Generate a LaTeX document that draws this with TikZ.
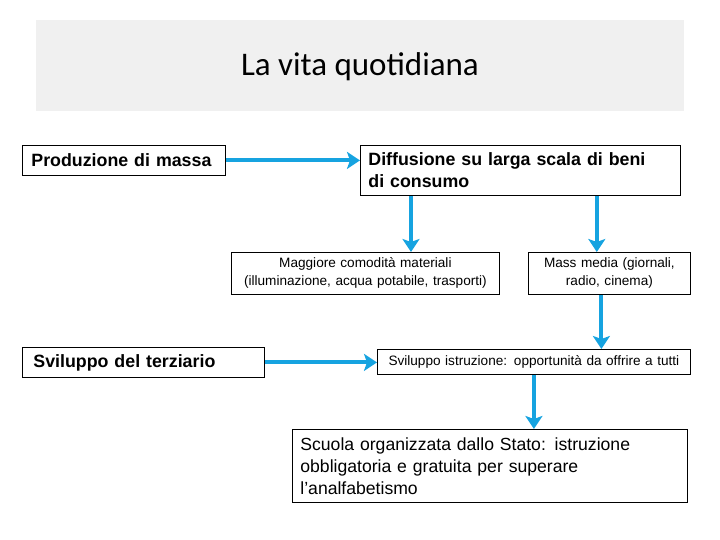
\documentclass[tikz,border=0pt]{standalone}
\usepackage{fontspec}
\setmainfont{Liberation Sans}
\newfontfamily\titlefont{Carlito}
\usepackage{tikz}
\usetikzlibrary{arrows.meta, positioning, calc}
\definecolor{FlowBlue}{RGB}{22,163,224}
\definecolor{BandGray}{RGB}{240,240,240}

\tikzset{
    box/.style={draw, line width=0.8pt, anchor=north west, inner ysep=0pt},
    bigbold/.style={font=\fontsize{17.8}{22}\selectfont\bfseries},
    small/.style={font=\fontsize{13.6}{18}\selectfont},
    flow/.style={-{Stealth[width=17pt,length=13pt,inset=3pt]}, line width=4pt, FlowBlue}
}

\begin{document}
\begin{tikzpicture}[x=1pt, y=-1pt]
        \useasboundingbox (0,0) rectangle (720,540);

        % Title band
        \fill [BandGray] (36,20) rectangle (684,111);
        \node [font=\titlefont\fontsize{33}{38}\selectfont] (title) at (360,67) {La vita quotidiana};

        % Boxes, left column
        \node [box, bigbold, inner xsep=9pt, minimum height=30pt, text width=185pt, align=left] (prod) at (22,145)
            {Produzione di massa};
        \node [box, bigbold, inner xsep=11pt, minimum height=30pt, text width=220pt, align=left] (terz) at (22,347)
            {Sviluppo del terziario};

        % Boxes, right side
        \node [box, bigbold, inner xsep=8pt, minimum height=50pt, text width=304pt, align=left] (diff) at (360,145)
            {Diffusione su larga scala di beni\\di consumo};
        \node [box, small, inner xsep=2pt, minimum height=42pt, text width=264pt, align=center] (magg) at (231,252)
            {Maggiore comodità materiali\\(illuminazione, acqua potabile, trasporti)};
        \node [box, small, inner xsep=2pt, minimum height=42pt, text width=158pt, align=center] (media) at (528,252)
            {Mass media (giornali,\\radio, cinema)};
        \node [box, small, inner xsep=2pt, minimum height=25pt, text width=309pt, align=center] (istr) at (377,349)
            {Sviluppo istruzione: opportunità da offrire a tutti};
        \node [box, font=\fontsize{17.6}{22}\selectfont, inner xsep=8pt, minimum height=73pt, text width=379pt, align=left] (scuola) at (292,429)
            {Scuola organizzata dallo Stato: istruzione\\obbligatoria e gratuita per superare\\l’analfabetismo};

        % Arrows
        \draw [flow] (prod.east) -- (prod.east -| diff.west);
        \draw [flow] ([xshift=51pt]diff.south west) -- ([xshift=51pt]diff.south west |- magg.north);
        \draw [flow] ([xshift=-84pt]diff.south east) -- ([xshift=-84pt]diff.south east |- media.north);
        \draw [flow] ([xshift=-8pt]media.south) -- ([xshift=-8pt]media.south |- istr.north);
        \draw [flow] (terz.east) -- (terz.east -| istr.west);
        \draw [flow] (istr.south) -- (istr.south |- scuola.north);
    \end{tikzpicture}
\end{document}
